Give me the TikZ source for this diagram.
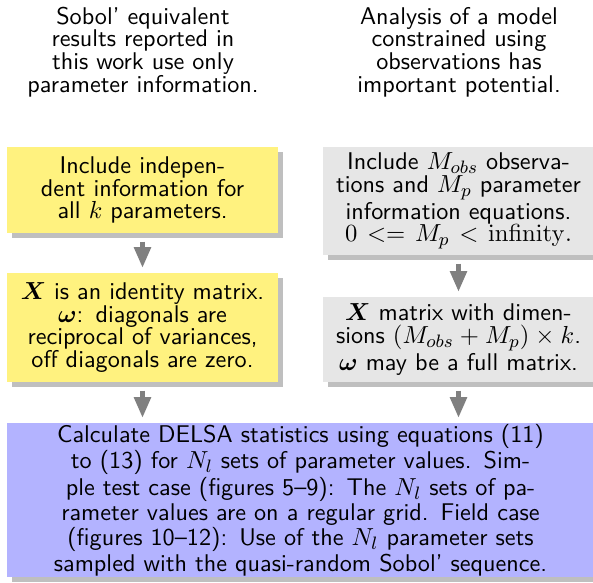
\documentclass[tikz,border=0pt]{standalone}
\usepackage{amsmath,amssymb,bm}
\usepackage{xcolor}
\usepackage{tikz}
\usetikzlibrary{arrows.meta,shadows}
\definecolor{cyel}{HTML}{FFF27F}
\definecolor{cgry}{HTML}{E6E6E6}
\definecolor{cblu}{HTML}{B3B3FF}
\definecolor{cshd}{HTML}{BFBFBF}
\definecolor{carr}{HTML}{808080}

\begin{document}
\begin{tikzpicture}[x=0.4444pt,y=-0.4444pt,
  font={\sffamily\fontsize{10.75}{10.1}\selectfont},
  note/.style={align=center,inner sep=0pt},
  box/.style={inner sep=0pt,minimum width=120.4pt,text width=118pt,align=center,
    drop shadow={shadow xshift=2.4pt,shadow yshift=-2.4pt,fill=cshd,opacity=1}},
  arr/.style={carr,line width=2.4pt,-{Triangle[width=7.1pt,length=9.3pt]},
    shorten <=3.6pt,shorten >=2pt}]
  \useasboundingbox (0,0) rectangle (593,582);
  \node[note] (noteL) at (143,52) {Sobol' equivalent\\results reported in\\this work use only\\parameter information.};
  \node[note] (noteR) at (459,52) {Analysis of a model\\constrained using\\observations has\\important potential.};
  \node[box,fill=cyel,minimum height=38.2pt] (inc) at (142.5,190) {Include indepen-\\dent information for\\all $k$ parameters.};
  \node[box,fill=cyel,minimum height=48.4pt] (ident) at (142.5,327.5) {$\bm{X}$ is an identity matrix.\\$\bm{\omega}$: diagonals are\\reciprocal of variances,\\off diagonals are zero.};
  \node[box,fill=cgry,minimum height=48pt] (obs) at (458.5,201) {Include $M_{obs}$ observa-\\tions and $M_p$ parameter\\information equations.\\$0 <= M_p < \mathrm{infinity}.$};
  \node[box,fill=cgry,minimum height=37.8pt] (xmat) at (458.5,339.5) {$\bm{X}$ matrix with dimen-\\sions $(M_{obs}+M_p)\times k$.\\$\bm{\omega}$ may be a full matrix.};
  \node[box,fill=cblu,minimum width=260.9pt,text width=256pt,minimum height=68.4pt] (delsa) at (300.5,500) {Calculate DELSA statistics using equations (11)\\to (13) for $N_l$ sets of parameter values. Sim-\\ple test case (figures 5--9): The $N_l$ sets of pa-\\rameter values are on a regular grid. Field case\\(figures 10--12): Use of the $N_l$ parameter sets\\sampled with the quasi-random Sobol' sequence.};
  \draw[arr] (inc) -- (ident);
  \draw[arr] (obs) -- (xmat);
  \draw[arr] (ident) -- (ident |- delsa.north);
  \draw[arr] (xmat) -- (xmat |- delsa.north);
\end{tikzpicture}
\end{document}
